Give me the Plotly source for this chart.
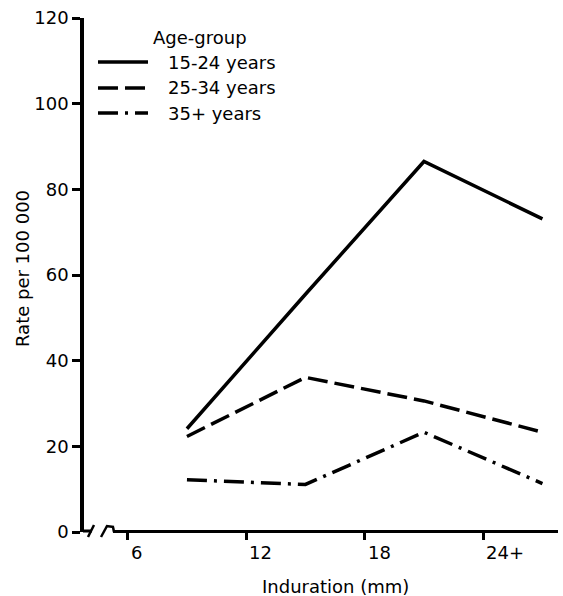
import plotly.graph_objects as go

# ---- data ----
induration_mid = [9, 15, 21, 27]
rate_15_24 = [24.1, 55.5, 86.5, 73.1]
rate_25_34 = [22.3, 36.1, 30.6, 23.3]
rate_35_plus = [12.2, 11.1, 23.3, 11.3]
series_names = ["15-24 years", "25-34 years", "35+ years"]
x_tick_vals = [6, 12, 18, 24]
x_tick_text = ["6", "12", "18", "24+"]
y_tick_vals = [0, 20, 40, 60, 80, 100, 120]

FONT = "DejaVu Sans"
FS = 18
W, H = 563, 596
L, R, T, B = 84, 5, 18, 64
PW, PH = W - L - R, H - T - B


def xp(px):
    return (px - L) / PW


def yp(py):
    return (H - B - py) / PH


dashes = ["solid", "20px,7px", "20px,7px,3px,7px"]
series = [rate_15_24, rate_25_34, rate_35_plus]

fig = go.Figure()
for name, vals, d in zip(series_names, series, dashes):
    fig.add_trace(go.Scatter(x=induration_mid, y=vals, mode="lines", name=name,
                             line=dict(color="black", width=3.5, dash=d),
                             showlegend=False))

# x range so that 6 sits at ~127.7 px, 19.75 px per unit
x_min = 6 - (127.7 - L) / 19.75
x_max = x_min + PW / 19.75

shapes = []
# x axis line (after break)
shapes.append(dict(type="line", xref="paper", yref="paper", x0=xp(113), x1=xp(558),
                   y0=yp(531.5), y1=yp(531.5), line=dict(color="black", width=3)))
# L foot + break marks
shapes.append(dict(type="line", xref="paper", yref="paper", x0=xp(83), x1=xp(92),
                   y0=yp(531), y1=yp(531), line=dict(color="black", width=3)))
shapes.append(dict(type="line", xref="paper", yref="paper", x0=xp(88), x1=xp(94),
                   y0=yp(537), y1=yp(525), line=dict(color="black", width=2.5)))
shapes.append(dict(type="line", xref="paper", yref="paper", x0=xp(101), x1=xp(107),
                   y0=yp(537), y1=yp(526), line=dict(color="black", width=2.5)))
shapes.append(dict(type="line", xref="paper", yref="paper", x0=xp(106), x1=xp(114),
                   y0=yp(526), y1=yp(527), line=dict(color="black", width=2.5)))
shapes.append(dict(type="line", xref="paper", yref="paper", x0=xp(113), x1=xp(114),
                   y0=yp(527), y1=yp(532), line=dict(color="black", width=2.5)))

# manual legend
legend_y = [62, 88, 113]
for d, ly in zip(dashes, legend_y):
    shapes.append(dict(type="line", xref="paper", yref="paper", x0=xp(98), x1=xp(148),
                       y0=yp(ly), y1=yp(ly), line=dict(color="black", width=3.5, dash=d)))

annotations = []
annotations.append(dict(text="Age-group", xref="paper", yref="paper", x=xp(151), y=yp(38),
                        xanchor="left", yanchor="middle", showarrow=False,
                        font=dict(family=FONT, size=FS, color="black")))
for name, ly in zip(series_names, legend_y):
    annotations.append(dict(text=name, xref="paper", yref="paper", x=xp(166), y=yp(ly),
                            xanchor="left", yanchor="middle", showarrow=False,
                            font=dict(family=FONT, size=FS, color="black")))
# x tick labels
for v, t in zip(x_tick_vals, x_tick_text):
    annotations.append(dict(text=t, xref="x", yref="paper", x=v, y=yp(552), xshift=1,
                            xanchor="left", yanchor="middle", showarrow=False,
                            font=dict(family=FONT, size=FS, color="black")))
# axis titles
annotations.append(dict(text="Induration (mm)", xref="paper", yref="paper", x=xp(335), y=yp(586),
                        xanchor="center", yanchor="middle", showarrow=False,
                        font=dict(family=FONT, size=FS, color="black")))
annotations.append(dict(text="Rate per 100 000", xref="paper", yref="paper", x=xp(22), y=yp(268),
                        xanchor="center", yanchor="middle", textangle=-90, showarrow=False,
                        font=dict(family=FONT, size=FS, color="black")))

fig.update_layout(
    width=W, height=H,
    margin=dict(l=L, r=R, t=T, b=B),
    paper_bgcolor="white", plot_bgcolor="white",
    showlegend=False,
    shapes=shapes, annotations=annotations,
    font=dict(family=FONT, size=FS, color="black"),
    xaxis=dict(range=[x_min, x_max], tickvals=x_tick_vals, showticklabels=False,
               ticks="outside", ticklen=7, tickwidth=3, tickcolor="black",
               showgrid=False, zeroline=False, showline=False, fixedrange=True),
    yaxis=dict(range=[0, 120], tickvals=y_tick_vals, ticks="outside", ticklen=8,
               tickwidth=3, tickcolor="black", showline=True, linewidth=3.5,
               linecolor="black", showgrid=False, zeroline=False,
               tickfont=dict(family=FONT, size=FS, color="black"), fixedrange=True),
)

fig.write_html("out.html", config={"displayModeBar": False},
               post_script="document.body.style.margin='0';document.body.style.overflow='hidden';")
